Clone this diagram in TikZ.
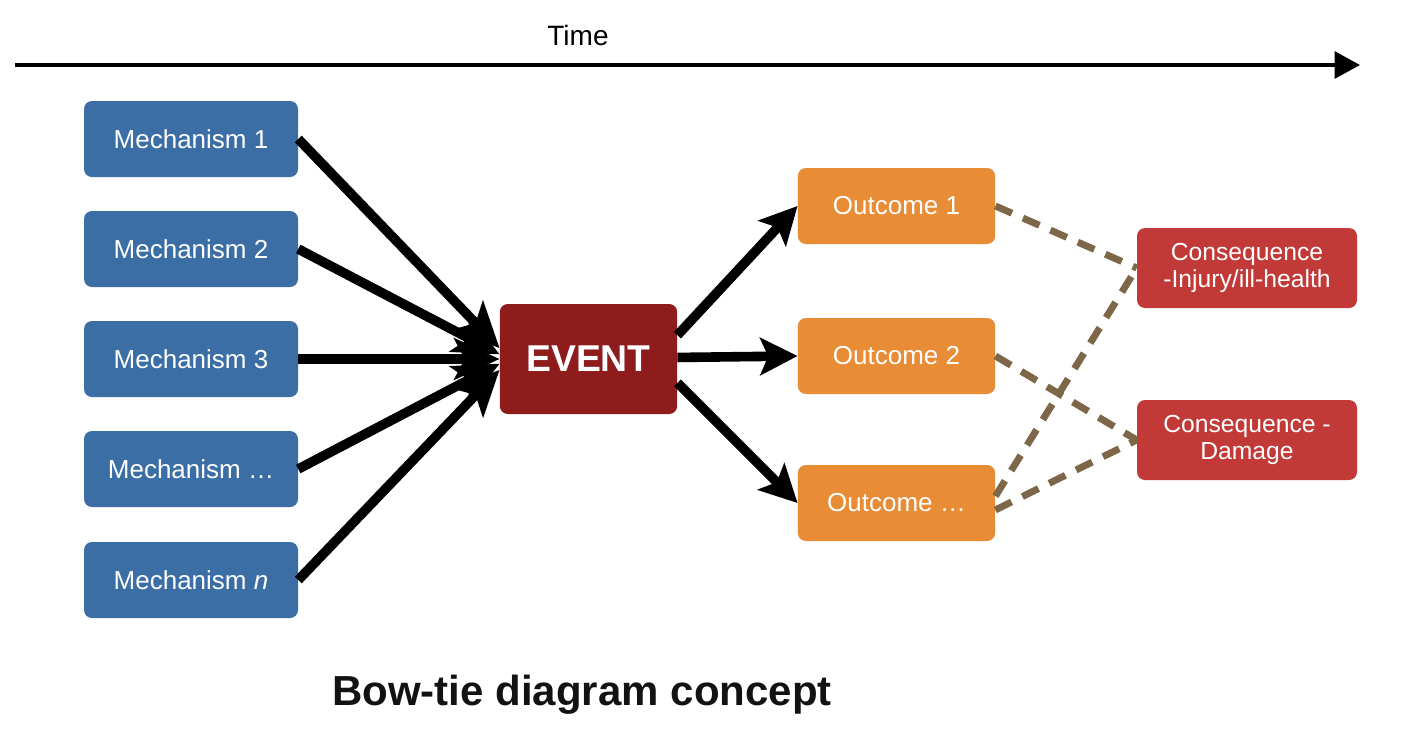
\documentclass[tikz,border=0pt]{standalone}
\usepackage{fontspec}
\setmainfont{Liberation Sans}
\usetikzlibrary{arrows.meta}
\definecolor{mechblue}{HTML}{3B6EA5}
\definecolor{eventred}{HTML}{8E1C1C}
\definecolor{outorange}{HTML}{E98C36}
\definecolor{consred}{HTML}{C23A37}
\definecolor{dashbrown}{HTML}{7D6748}
\tikzset{
  box/.style={rectangle, rounded corners=6pt, text=white, inner sep=0pt, align=center},
  mech/.style={box, fill=mechblue, minimum width=160.5pt, minimum height=57pt, font=\fontsize{19.5}{22}\selectfont},
  eventbox/.style={box, fill=eventred, minimum width=133pt, minimum height=82.5pt, font=\fontsize{28}{32}\selectfont\bfseries},
  outbox/.style={box, fill=outorange, minimum width=148pt, minimum height=57pt, font=\fontsize{19.5}{22}\selectfont},
  consbox/.style={box, fill=consred, minimum width=165pt, minimum height=60pt, font=\fontsize{18.5}{20}\selectfont},
  bigarr/.style={line width=7.2pt, -{Stealth[length=34pt,width=31pt,inset=8pt]}},
  outarr/.style={line width=7.2pt, -{Stealth[length=28pt,width=28pt,inset=6pt]}},
  dashlink/.style={line width=5.2pt, dashcolor, dash pattern=on 13.5pt off 9pt},
  dashcolor/.style={draw=dashbrown}
}
\begin{document}
\begin{tikzpicture}[x=0.75pt,y=-0.75pt]
\useasboundingbox (0,0) rectangle (1408,736);
% time axis
\coordinate (t0) at (15,65);
\coordinate (t1) at (1360,65);
\draw[line width=3pt, -{Triangle[length=19pt,width=20pt]}] (t0) -- (t1);
\node[font=\fontsize{21}{24}\selectfont] (time) at (578,35) {Time};
% mechanisms
\node[mech] (m1) at (191,139) {Mechanism 1};
\node[mech] (m2) at (191,249) {Mechanism 2};
\node[mech] (m3) at (191,359) {Mechanism 3};
\node[mech] (m4) at (191,469) {Mechanism \dots};
\node[mech] (m5) at (191,580) {Mechanism \textit{n}};
% event
\node[eventbox] (ev) at (588.5,359) {EVENT};
% outcomes
\node[outbox] (o1) at (896.5,206) {Outcome 1};
\node[outbox] (o2) at (896.5,356) {Outcome 2};
\node[outbox] (o3) at (896.5,503) {Outcome \dots};
% consequences
\node[consbox] (c1) at (1247,268) {Consequence\\-Injury/ill-health};
\node[consbox] (c2) at (1247,440) {Consequence -\\Damage};
% mechanism arrows
\draw[bigarr] (m1.east) -- (ev.173);
\draw[bigarr] (m2.east) -- (ev.177);
\draw[bigarr] (m3.east) -- (ev.west);
\draw[bigarr] (m4.east) -- (ev.183);
\draw[bigarr] (m5.east) -- (ev.187);
% outcome arrows
\draw[outarr] (ev.15) -- (o1.west);
\draw[outarr] (ev.1) -- (o2.west);
\draw[outarr] (ev.-15) -- (o3.west);
% dashed links
\draw[dashlink] (o1.east) -- (c1.west);
\draw[dashlink] (o2.east) -- (c2.west);
\draw[dashlink] (o3.4) -- (c1.west);
\draw[dashlink] (o3.-4) -- (c2.west);
% title
\node[font=\fontsize{31.5}{36}\selectfont\bfseries, text={black!93}] (title) at (582,695) {Bow-tie diagram concept};
\end{tikzpicture}
\end{document}
